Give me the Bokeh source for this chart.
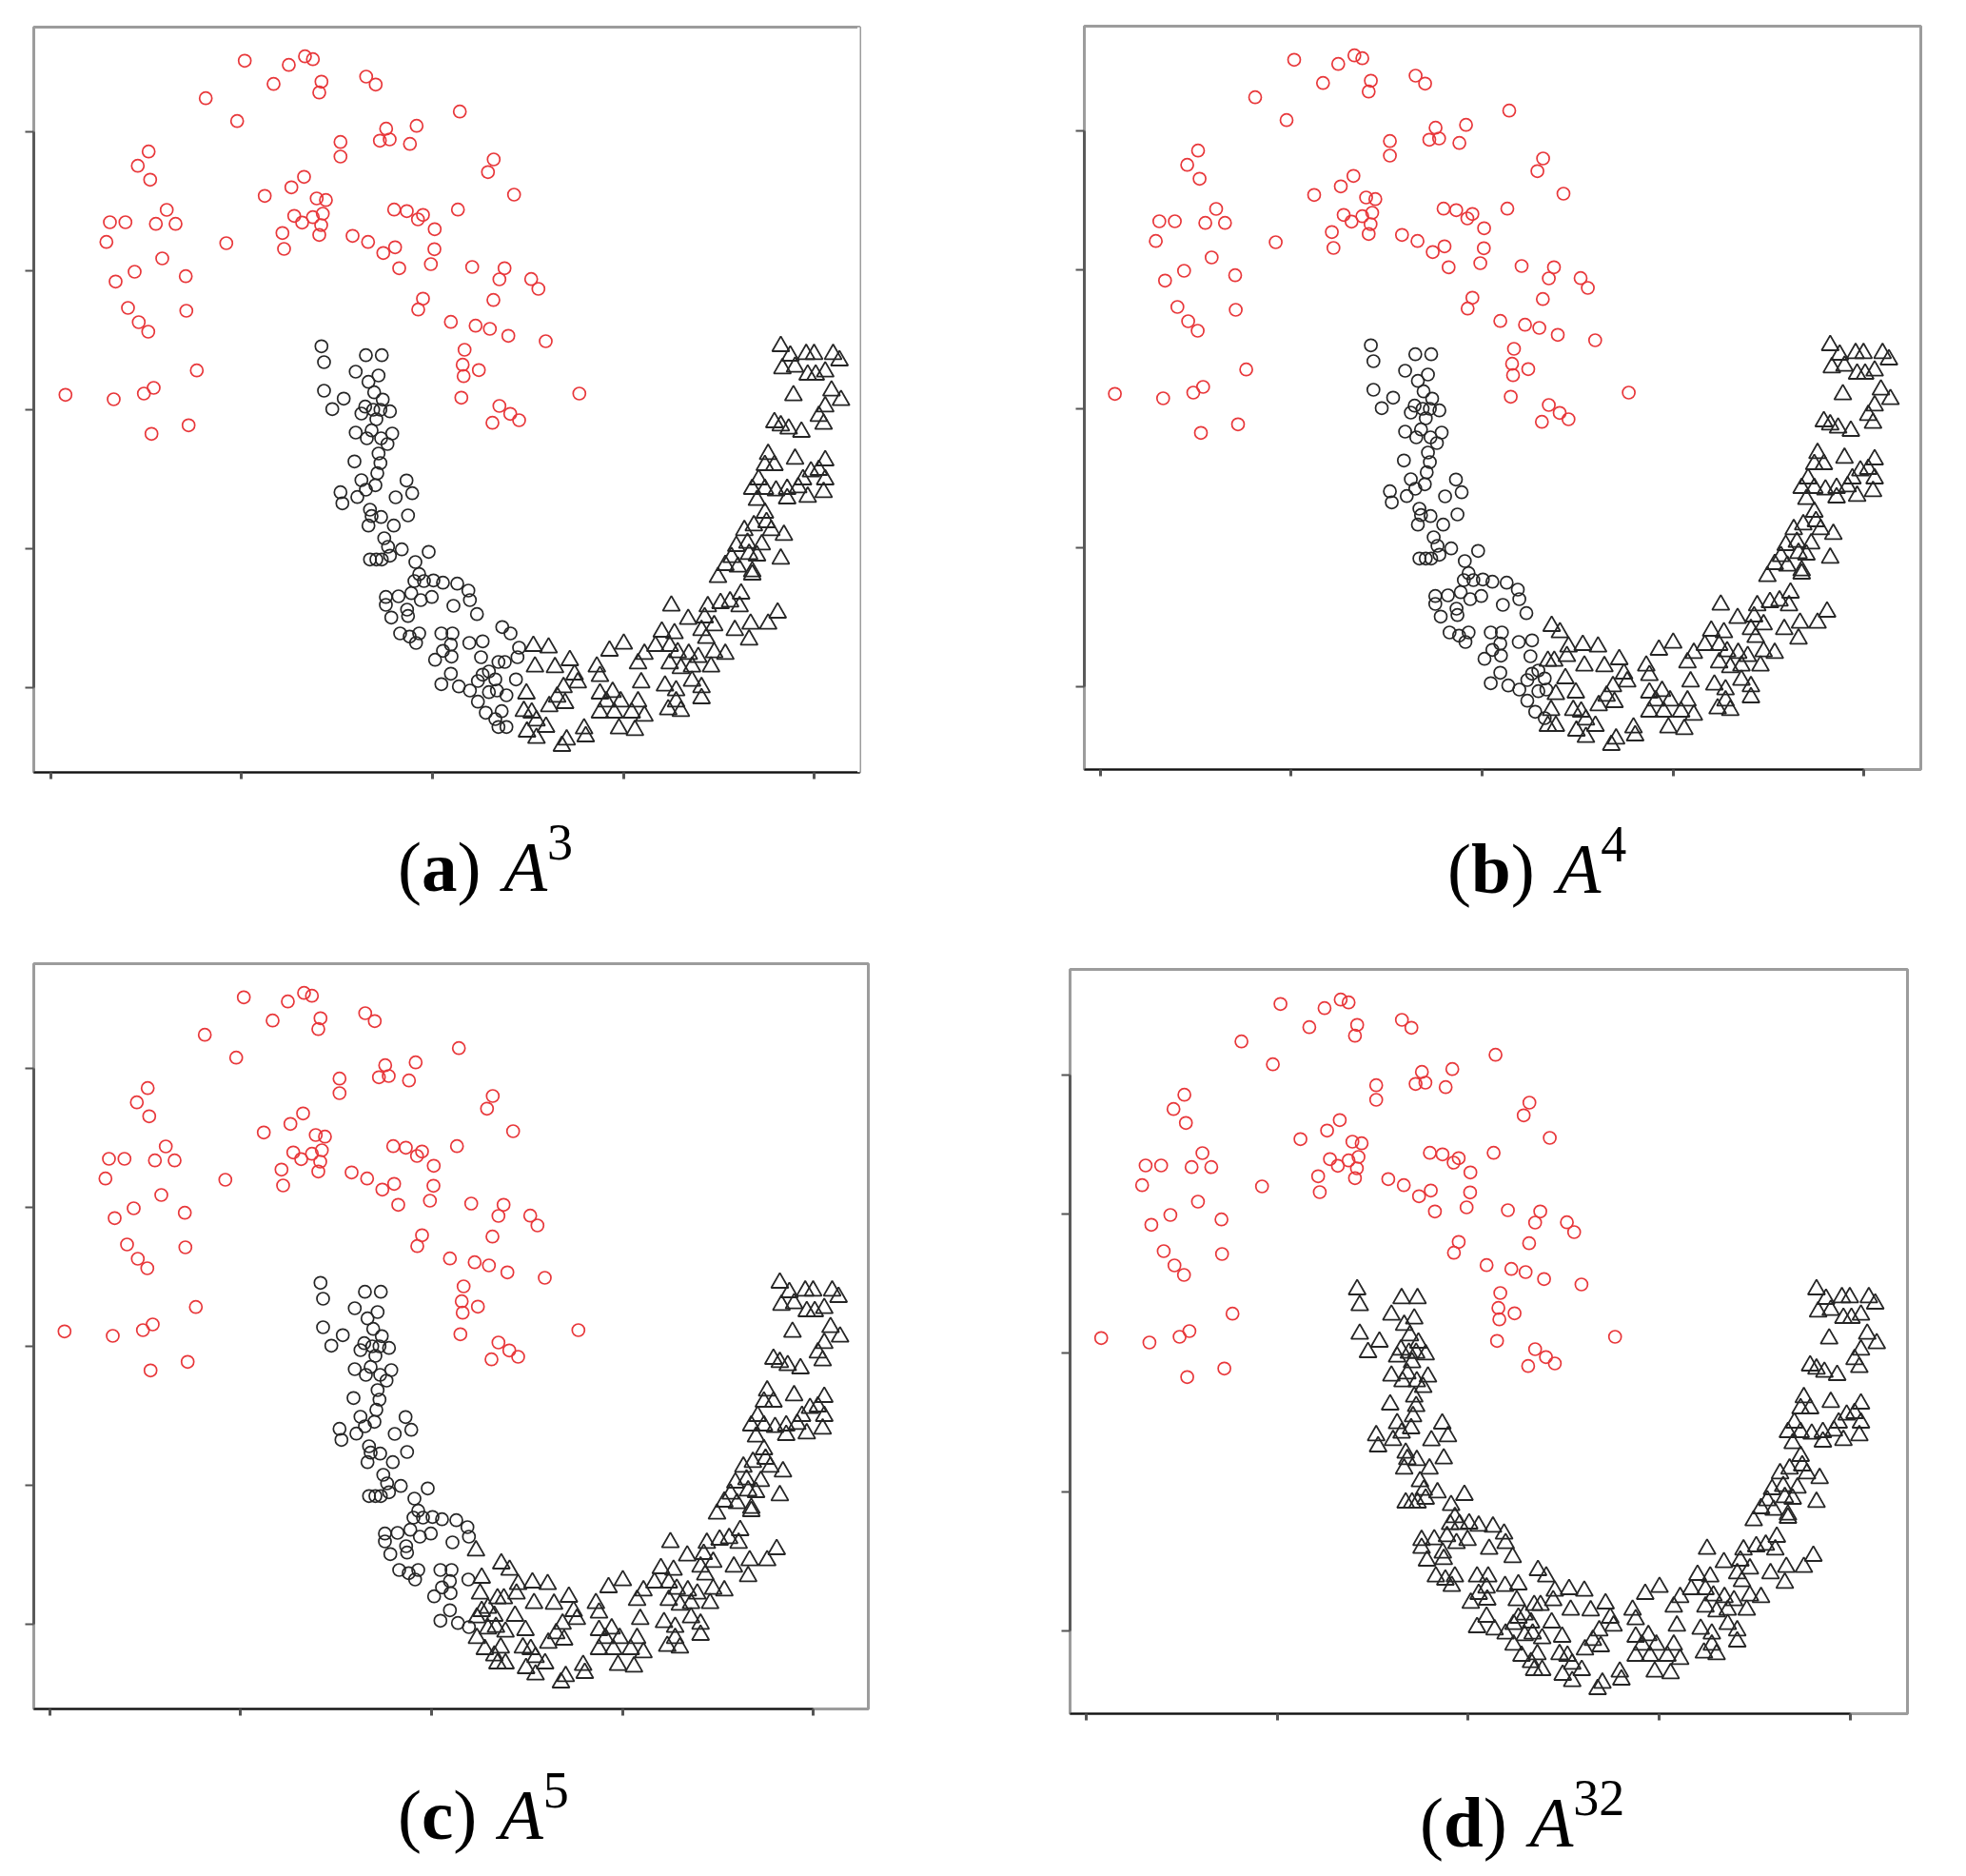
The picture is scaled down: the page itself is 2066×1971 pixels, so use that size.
from bokeh.plotting import figure
from bokeh.models import Range1d, FixedTicker, CustomJSTickFormatter, Div, Spacer, Span
from bokeh.layouts import column, row
from bokeh.embed import file_html
from bokeh.resources import INLINE

# ---------------- data (unitless coordinates) ----------------
x_ticks = [52.7, 253.3, 454.0, 654.7, 855.4]
y_ticks = [138.3, 284.2, 430.1, 576.1, 722.0]

# upper moon (always red circles)
red_points = [
    (256.7, 63.3), (303.0, 67.7), (320.0, 58.7), (328.3, 61.7), (287.0, 87.7), (337.3, 85.3), (335.0, 96.7),
    (215.7, 102.7), (248.7, 126.7), (155.7, 158.7), (144.3, 173.7), (157.3, 188.3), (319.0, 185.3),
    (305.7, 196.3), (277.7, 205.3), (332.3, 208.0), (342.0, 209.7), (174.7, 220.0), (115.0, 233.0),
    (131.3, 233.0), (163.3, 234.7), (184.0, 234.7), (308.7, 226.3), (317.0, 233.3), (328.3, 227.7),
    (338.7, 224.0), (337.0, 236.0), (335.0, 246.3), (296.3, 244.3), (298.0, 261.0), (111.3, 253.7),
    (237.3, 255.0), (170.0, 271.0), (141.0, 285.0), (121.0, 295.3), (194.7, 289.7), (134.0, 323.0),
    (195.3, 326.0), (145.3, 338.0), (155.3, 348.0), (206.3, 388.7), (68.3, 414.3), (119.0, 419.0),
    (150.7, 413.0), (161.0, 407.0), (197.7, 446.3), (158.7, 455.3),
    (357.3, 148.7), (357.3, 164.0), (384.3, 80.0), (394.3, 88.3), (482.7, 116.7), (405.3, 134.7),
    (398.7, 147.3), (409.0, 146.0), (437.3, 131.7), (430.3, 150.7), (518.3, 167.0), (512.3, 180.3),
    (539.7, 204.0), (413.7, 219.7), (427.0, 221.3), (444.0, 225.3), (438.7, 230.0), (480.7, 219.7),
    (456.3, 240.3), (370.0, 247.3), (386.3, 253.7), (402.3, 265.3), (414.7, 259.3), (456.0, 261.3),
    (419.0, 281.3), (452.3, 277.0), (495.7, 280.0), (529.7, 281.3), (524.3, 293.0), (557.7, 292.7),
    (565.3, 303.0), (518.0, 314.7), (444.0, 313.3), (439.0, 324.7), (473.3, 337.7), (499.3, 341.7),
    (514.3, 345.0), (533.7, 352.3), (573.0, 358.0), (487.7, 367.0), (485.7, 382.7), (486.7, 394.7),
    (502.7, 388.3), (608.3, 413.0), (484.3, 417.3), (524.3, 426.0), (535.7, 434.3), (545.0, 441.0),
    (517.0, 443.7),
]

# lower moon (black circles or triangles depending on panel)
lower_points = [
    (337.3, 363.3), (340.0, 380.0), (384.0, 372.7), (400.7, 372.7), (373.3, 390.0), (397.3, 394.0),
    (386.7, 400.7), (340.0, 410.0), (360.7, 418.3), (348.7, 429.3), (392.7, 411.7), (401.7, 419.3),
    (383.3, 426.7), (391.7, 430.0), (399.3, 430.0), (409.3, 431.7), (379.3, 434.0), (395.0, 440.0),
    (373.3, 454.0), (390.0, 451.7), (411.7, 455.0), (385.0, 460.0), (400.0, 460.0), (406.7, 466.0),
    (397.3, 476.0), (372.0, 484.3), (399.3, 486.0), (396.0, 496.7), (379.3, 504.0), (394.0, 509.3),
    (384.0, 514.0), (357.3, 516.7), (359.3, 528.3), (375.0, 521.7), (426.7, 504.3), (432.7, 517.7),
    (415.3, 522.0), (388.3, 535.0), (390.0, 541.7), (400.0, 542.7), (386.7, 551.7), (413.3, 551.7),
    (428.3, 541.0), (403.3, 565.0), (407.3, 574.0), (421.7, 576.7), (450.0, 579.3), (388.3, 587.3),
    (395.0, 587.3), (400.7, 587.3), (409.3, 583.3), (436.0, 590.0), (440.0, 602.7), (435.0, 610.0),
    (445.0, 610.0), (455.0, 609.3), (465.0, 611.7), (480.0, 612.7), (491.7, 620.0), (493.3, 630.0),
    (405.0, 626.7), (418.3, 626.0), (431.7, 622.7), (441.7, 630.0), (453.3, 626.7), (405.0, 635.0),
    (427.3, 640.0), (428.3, 646.7), (476.0, 636.0), (410.7, 648.3), (500.7, 644.7), (420.0, 665.0),
    (430.0, 668.3), (440.0, 665.0), (436.7, 675.0), (463.3, 665.0), (475.0, 665.0), (473.3, 676.7),
    (465.0, 683.3), (474.0, 689.3), (456.7, 692.7), (492.7, 675.0), (506.7, 673.3), (505.0, 690.0),
    (527.3, 658.3), (536.0, 665.0), (473.3, 707.3), (463.3, 718.3), (481.7, 720.7), (493.3, 725.0),
    (501.7, 715.0), (506.7, 708.3), (513.3, 705.0), (520.0, 713.3), (523.3, 695.0), (530.0, 695.0),
    (501.7, 736.7), (513.3, 726.7), (521.7, 725.0), (531.7, 730.0), (510.0, 748.3), (520.0, 755.0),
    (526.7, 746.7), (523.3, 763.3), (531.7, 763.3), (545.0, 680.0), (543.3, 690.0), (541.7, 713.3),
    (754.0, 606.0), (790.0, 603.3), (705.0, 636.0), (722.7, 650.0), (743.3, 636.7), (756.7, 633.3),
    (766.7, 631.7), (778.3, 623.3), (776.7, 636.7), (740.0, 648.3), (750.0, 656.7), (736.7, 661.7),
    (771.7, 661.7), (788.3, 655.0), (786.7, 671.7), (741.7, 670.0), (695.0, 663.3), (708.3, 665.0),
    (688.3, 678.3), (703.3, 678.3), (711.7, 685.0), (723.3, 686.7), (733.3, 690.0), (750.0, 685.0),
    (761.7, 686.7), (676.7, 686.7), (670.0, 696.7), (655.0, 676.0), (640.0, 683.3), (703.3, 696.7),
    (715.0, 701.7), (726.7, 700.0), (746.7, 700.0), (726.7, 715.0), (626.7, 700.0), (630.0, 710.0),
    (673.3, 716.7), (698.3, 720.0), (710.0, 725.0), (736.7, 721.7), (736.7, 733.3), (710.0, 736.7),
    (701.7, 745.0), (715.0, 746.7), (630.0, 728.3), (643.3, 726.7), (636.7, 736.7), (651.7, 736.7),
    (670.0, 736.7), (630.0, 748.3), (645.0, 748.3), (663.3, 748.3), (676.7, 751.7), (650.0, 765.0),
    (666.7, 766.7), (560.0, 678.3), (576.0, 680.0), (561.7, 700.0), (582.7, 700.7), (598.3, 693.3),
    (603.3, 708.3), (606.7, 716.7), (591.7, 721.7), (585.0, 731.7), (593.3, 738.3), (576.7, 741.7),
    (552.7, 728.3), (550.0, 746.7), (558.3, 748.3), (563.3, 756.7), (573.3, 763.3), (553.3, 768.3),
    (563.3, 775.0), (595.0, 776.7), (613.3, 765.0), (615.0, 773.3), (590.0, 783.3),
    (820.0, 363.3), (830.0, 373.3), (846.7, 371.7), (855.0, 371.7), (875.0, 371.7), (881.7, 378.3),
    (821.7, 386.7), (835.0, 385.0), (848.3, 393.3), (856.7, 393.3), (866.7, 390.0), (833.3, 415.0),
    (873.3, 410.0), (883.3, 420.0), (866.7, 426.7), (860.0, 436.7), (865.0, 445.0), (813.3, 443.3),
    (820.0, 446.7), (828.3, 450.0), (841.7, 453.3), (806.7, 476.7), (835.0, 481.7), (866.7, 483.3),
    (803.3, 488.3), (813.3, 488.3), (851.7, 495.0), (860.0, 493.3), (866.7, 503.3), (796.7, 503.3),
    (843.3, 503.3), (790.0, 513.3), (803.3, 513.3), (815.0, 515.0), (826.7, 513.3), (838.3, 511.7),
    (848.3, 521.7), (865.0, 516.7), (795.0, 525.0), (826.7, 523.3), (803.3, 538.3), (791.7, 551.7),
    (805.0, 548.3), (781.7, 556.7), (810.0, 556.7), (823.3, 561.7), (773.3, 573.3), (785.0, 570.0),
    (800.0, 571.7), (786.7, 581.7), (795.0, 583.3), (768.3, 585.0), (820.0, 586.7), (761.7, 593.3),
    (775.0, 595.0), (790.0, 600.0), (816.7, 643.3), (806.7, 655.0),
]

# per-panel: lower-moon points left of this x are drawn as black circles
panel_letters = ["a", "b", "c", "d"]
panel_powers = ["3", "4", "5", "32"]
circle_cut = [548.0, 522.0, 495.0, None]

red_x = [p[0] for p in red_points]
red_y = [p[1] for p in red_points]
low_x = [p[0] for p in lower_points]
low_y = [p[1] for p in lower_points]

RED = "#e8373a"
BLACK = "#262626"


def make_panel(idx, fw, fh, left, right, top, bottom, xr, yr, full_bottom=False, open_right=False):
    p = figure(frame_width=fw, frame_height=fh, x_range=Range1d(*xr), y_range=Range1d(*yr),
               output_backend="svg", toolbar_location=None,
               min_border_left=left, min_border_right=right,
               min_border_top=top, min_border_bottom=bottom)
    p.grid.visible = False
    p.background_fill_color = "white"
    p.border_fill_color = "white"
    p.outline_line_color = "#9c9c9c"
    p.outline_line_width = 3

    xa = p.xaxis[0]
    xa.ticker = FixedTicker(ticks=x_ticks)
    xa.formatter = CustomJSTickFormatter(code="return ''")
    xa.bounds = (xr[0], xr[1] if full_bottom else x_ticks[-1])
    xa.axis_line_color = "#111111"
    xa.axis_line_width = 2
    xa.major_tick_out = 7
    xa.major_tick_in = 0
    xa.major_tick_line_color = "#555555"
    xa.major_tick_line_width = 3
    xa.minor_tick_line_color = None
    xa.major_label_standoff = 0

    ya = p.yaxis[0]
    ya.ticker = FixedTicker(ticks=y_ticks)
    ya.formatter = CustomJSTickFormatter(code="return ''")
    ya.bounds = (min(y_ticks), max(y_ticks))
    ya.axis_line_color = "#5a5a5a"
    ya.axis_line_width = 3
    ya.major_tick_out = 9
    ya.major_tick_in = 0
    ya.major_tick_line_color = "#555555"
    ya.major_tick_line_width = 2
    ya.minor_tick_line_color = None
    ya.major_label_standoff = 0

    if open_right:
        p.add_layout(Span(location=xr[1], dimension="height", line_color="white",
                          line_width=5, level="overlay"))

    cut = circle_cut[idx]
    cx = [x for x, y in zip(low_x, low_y) if cut is not None and x < cut]
    cy = [y for x, y in zip(low_x, low_y) if cut is not None and x < cut]
    tx = [x for x, y in zip(low_x, low_y) if cut is None or x >= cut]
    ty = [y for x, y in zip(low_x, low_y) if cut is None or x >= cut]

    p.scatter(red_x, red_y, marker="circle", size=13, fill_color=None,
              line_color=RED, line_width=1.7)
    if cx:
        p.scatter(cx, cy, marker="circle", size=13, fill_color=None,
                  line_color=BLACK, line_width=1.7)
    p.scatter(tx, ty, marker="triangle", size=18, fill_color=None,
              line_color=BLACK, line_width=1.8)
    return p


def make_caption(idx, width, height, pad_left, pad_top):
    html = (
        '<div style="font-family:\'Liberation Serif\',\'Times New Roman\',serif; font-size:75px; '
        'line-height:75px; white-space:nowrap; color:#000; margin:0; '
        f'padding-left:{pad_left}px; padding-top:{pad_top}px;">'
        f'(<b>{panel_letters[idx]}</b>) <i style="margin-left:5px">A</i>'
        '<span style="font-size:54px; line-height:0; position:relative; top:-33px;">'
        f'{panel_powers[idx]}</span></div>'
    )
    return Div(text=html, width=width, height=height, margin=0)


pa = make_panel(0, 868, 783, 35, 195, 28, 30, (35, 903), (811, 28), full_bottom=True, open_right=True)
ca = make_caption(0, 1098, 151, 418, 32)
pc = make_panel(2, 877, 783, 35, 186, 20, 30, (36, 913), (811, 28))
cc = make_caption(2, 1098, 144, 418, 44)

pb = make_panel(1, 879, 781, 26, 30, 27, 30, (36.2, 915.2), (809, 28))
cb = make_caption(1, 950, 160, 423, 37)
pd = make_panel(3, 880, 782, 26, 44, 20, 30, (35.6, 915.6), (809, 27))
cd = make_caption(3, 950, 139, 394, 47)

layout = row(
    column(pa, ca, pc, cc),
    column(row(Spacer(width=15, height=838), pb), cb, pd, cd),
)

open("out.html", "w").write(file_html(layout, INLINE))
